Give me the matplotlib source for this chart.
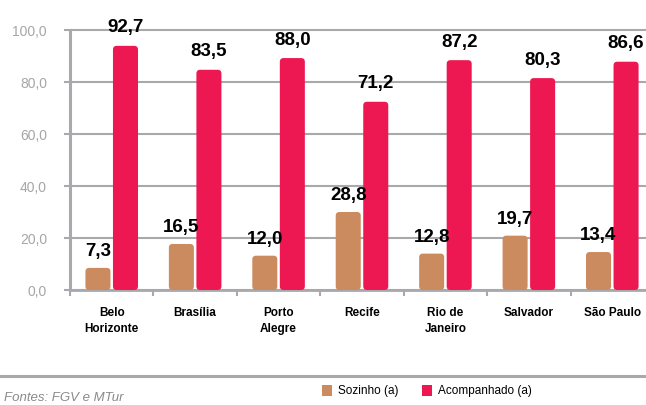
import matplotlib
matplotlib.use("Agg")
import matplotlib.pyplot as plt
import numpy as np
from matplotlib.patches import FancyBboxPatch, Patch
from matplotlib.lines import Line2D

cidades = ["Belo\nHorizonte", "Brasília", "Porto\nAlegre", "Recife",
           "Rio de\nJaneiro", "Salvador", "São Paulo"]
sozinho = [7.3, 16.5, 12.0, 28.8, 12.8, 19.7, 13.4]
acompanhado = [92.7, 83.5, 88.0, 71.2, 87.2, 80.3, 86.6]
yticks = [0, 20, 40, 60, 80, 100]
series = ["Sozinho (a)", "Acompanhado (a)"]

cor_soz = "#cc8b5e"
cor_acp = "#ed1752"
cinza = "#a7a9ac"

plt.rcParams['font.family'] = ['Liberation Sans', 'DejaVu Sans']

W, H = 646, 405
fig = plt.figure(figsize=(W / 100, H / 100), dpi=100)
ax = fig.add_axes([70 / W, 115 / H, 584 / W, 260 / H])

x = np.arange(len(cidades))
w = 0.30
off = 0.165
b1 = ax.bar(x - off, sozinho, w, color=cor_soz, zorder=3)
b2 = ax.bar(x + off, acompanhado, w, color=cor_acp, zorder=3)

ax.set_xlim(-0.5, 6.5)
ax.set_ylim(0, 100)

# rounded corners
aspect = (100 / 260) / (7 / 584)
for bars in (b1, b2):
    for p in bars:
        x0, y0 = p.get_xy()
        fb = FancyBboxPatch((x0, y0), p.get_width(), p.get_height() + 1.2,
                            boxstyle="round,pad=0,rounding_size=0.045",
                            mutation_aspect=aspect,
                            fc=p.get_facecolor(), ec="none", zorder=3)
        p.remove()
        ax.add_patch(fb)

def fmt(v):
    return f"{v:.1f}".replace(".", ",")

for xi, v in zip(x, sozinho):
    ax.annotate(fmt(v), (xi - off, v), xytext=(0, 8), textcoords="offset points",
                ha="center", va="bottom", fontsize=13.5, fontweight="bold")
for xi, v in zip(x, acompanhado):
    ax.annotate(fmt(v), (xi + off, v), xytext=(0, 9), textcoords="offset points",
                ha="center", va="bottom", fontsize=13.5, fontweight="bold",
                annotation_clip=False)

# y axis
ax.set_yticks(yticks)
ax.set_yticklabels([fmt(t) for t in yticks])
ax.tick_params(axis="y", length=4.5, width=1.5, color=cinza, labelcolor="#a6a6a6",
               labelsize=10, pad=12)
ax.yaxis.grid(True, color=cinza, lw=1.5, zorder=1)
for gl in ax.get_ygridlines():
    gl.set_clip_on(False)
ax.set_axisbelow(True)

# x axis
ax.set_xticks(x)
ax.set_xticklabels(cidades, fontsize=8.5, fontweight="bold", linespacing=1.35)
ax.set_xticks(np.arange(-0.5, 7, 1), minor=True)
ax.tick_params(axis="x", which="major", length=0, pad=12.5)
ax.tick_params(axis="x", which="minor", length=4, width=1.5, color=cinza)

for s in ["top", "right"]:
    ax.spines[s].set_visible(False)
ax.spines["left"].set_color(cinza)
ax.spines["left"].set_linewidth(2.2)
ax.spines["bottom"].set_color(cinza)
ax.spines["bottom"].set_linewidth(2.0)

# footer line
fig.add_artist(Line2D([0, 1], [(H - 376) / H] * 2, color=cinza, lw=2.2))
fig.text(4 / W, 1 / H, "Fontes: FGV e MTur", fontsize=9.5, style="italic",
         color="#8a8a8a", ha="left", va="bottom")

handles = [Patch(fc=cor_soz, ec="none"), Patch(fc=cor_acp, ec="none")]
fig.legend(handles, series, loc="upper left", bbox_to_anchor=(322 / W, (H - 385) / H),
           ncol=2, frameon=False, fontsize=8.5, handlelength=0.85, handleheight=1.0,
           handletextpad=0.5, columnspacing=2.0, borderpad=0, borderaxespad=0)

fig.savefig("out.png", dpi=100)
